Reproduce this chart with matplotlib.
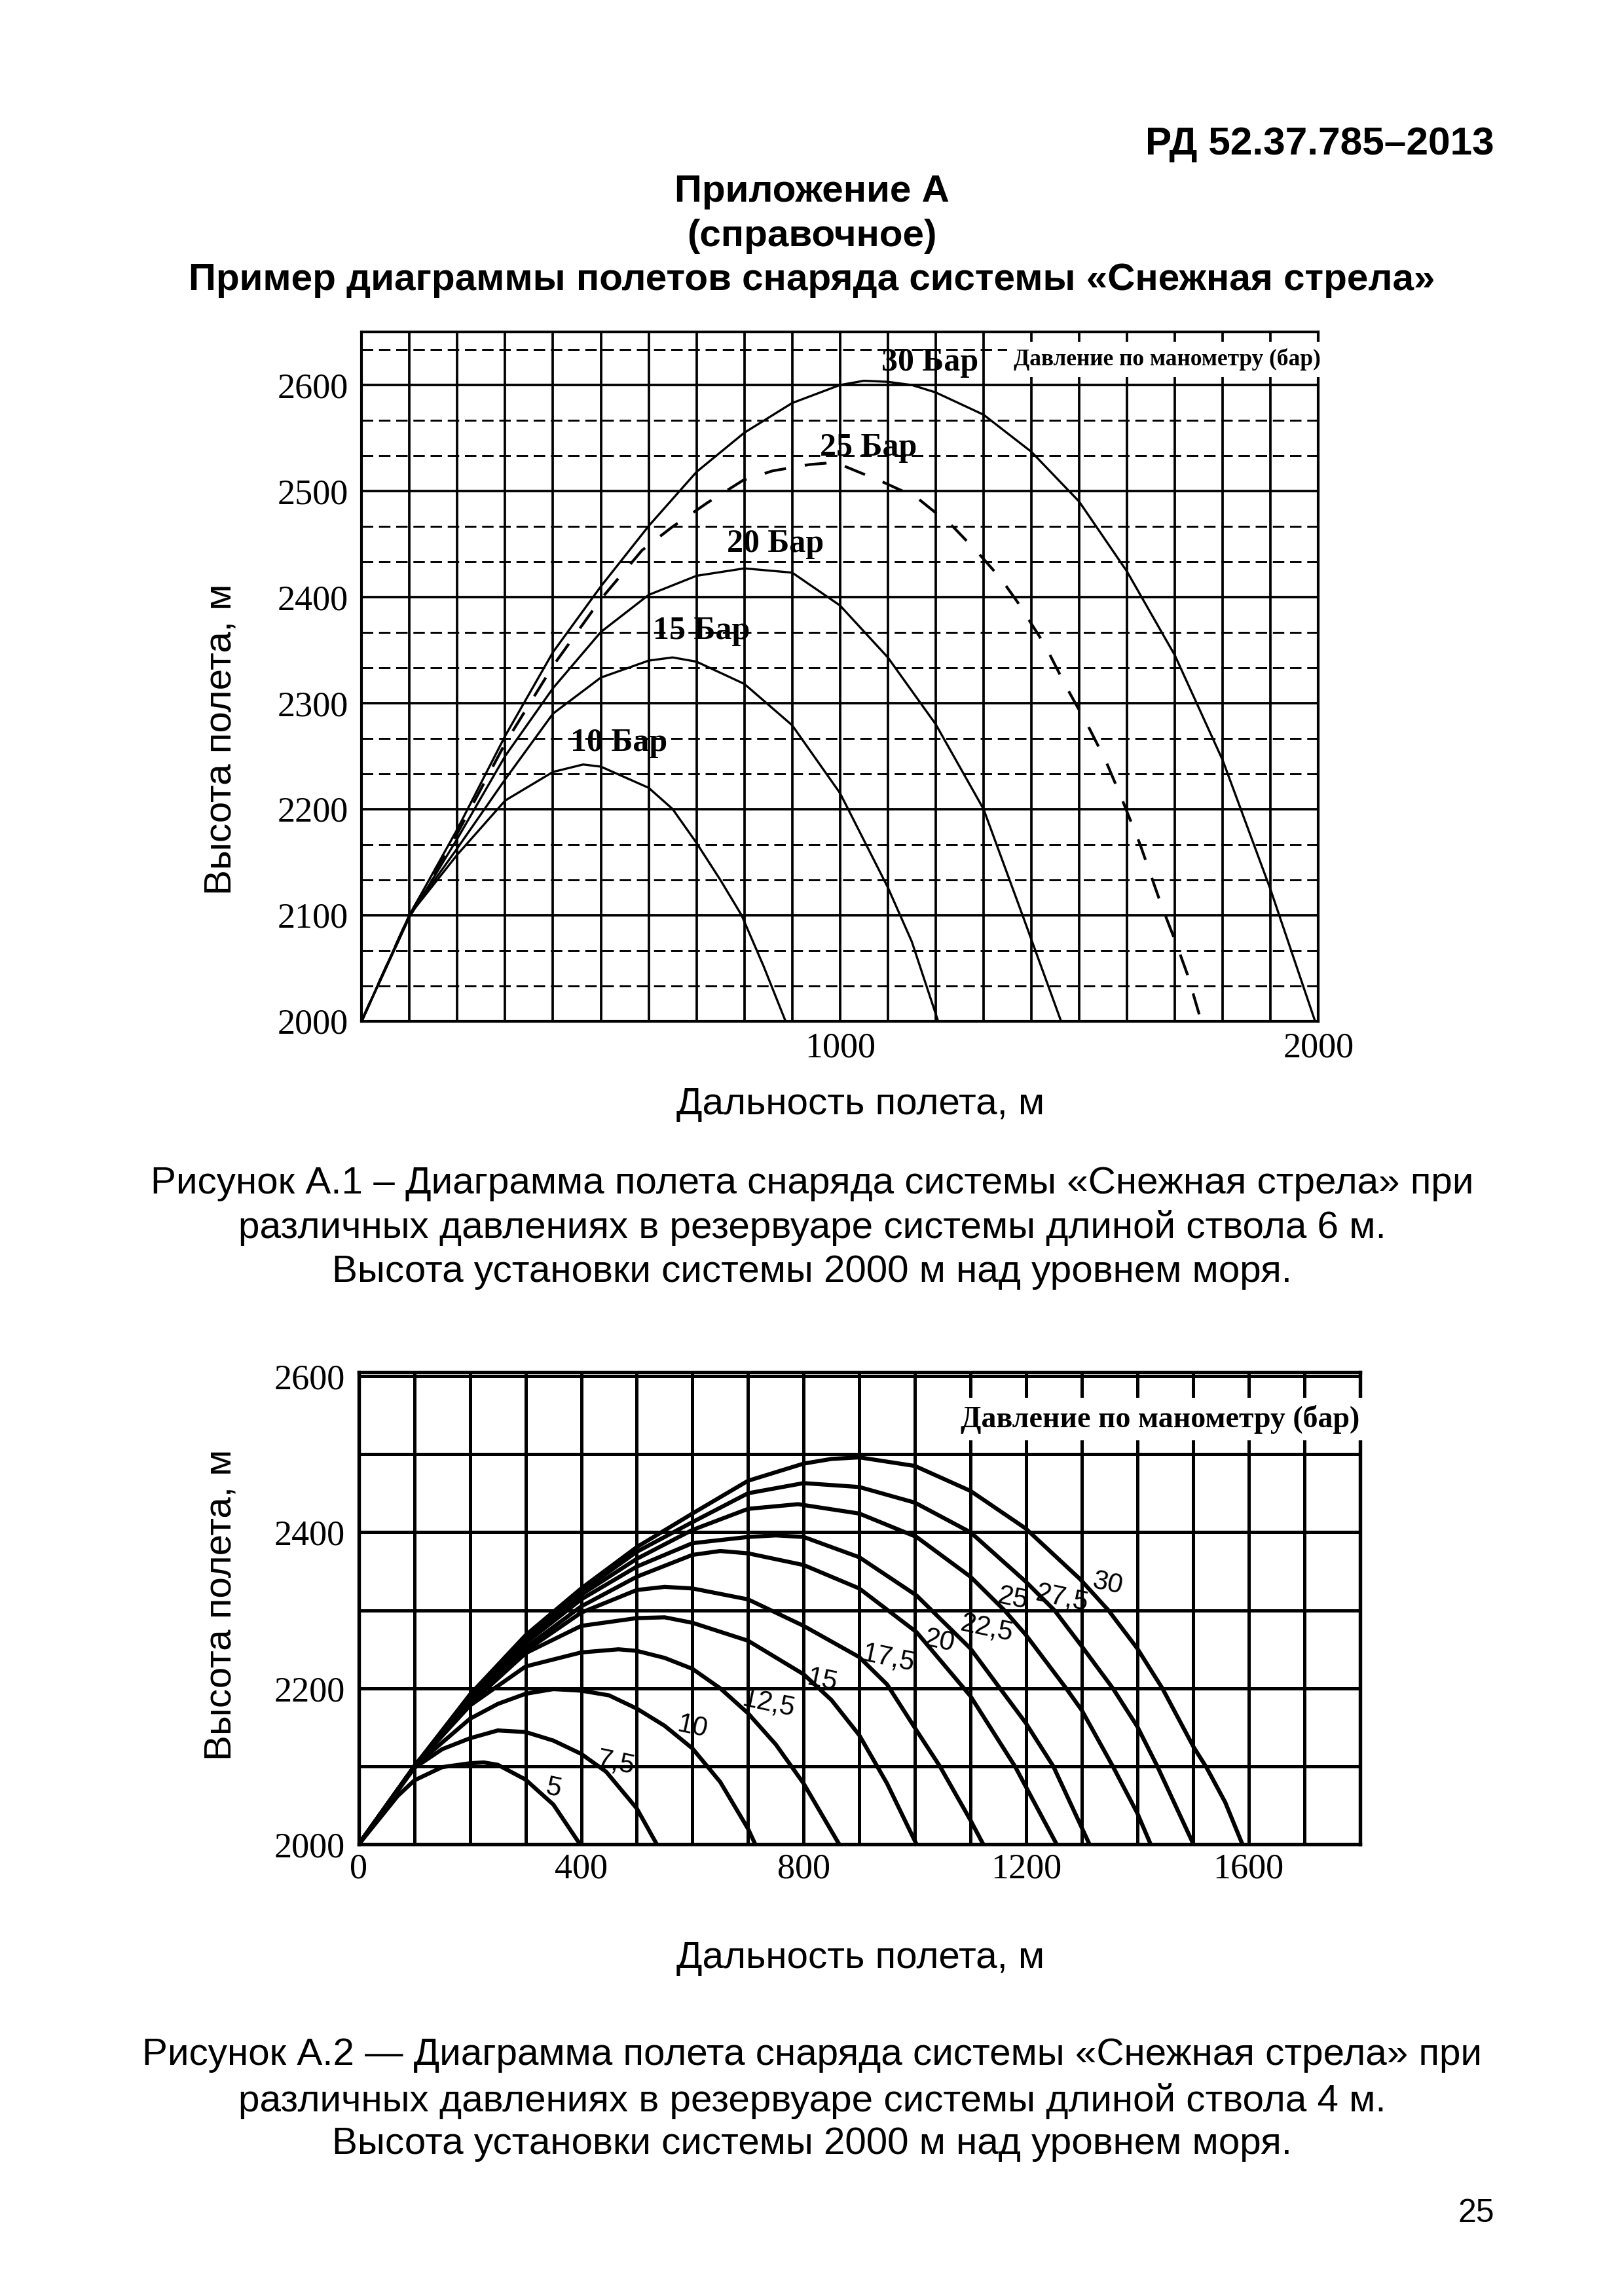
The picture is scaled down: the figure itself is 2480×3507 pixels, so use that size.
from matplotlib import pyplot as plt
import numpy as np

plt.rcParams['font.family'] = ['Liberation Serif', 'DejaVu Serif']
SANS = ['Liberation Sans', 'DejaVu Sans']

########################################################################################################################
# Figure A.1 -- barrel 6 m, pressures 10...30 bar
a1_x_10 = [0, 100, 200, 300, 400, 463, 500, 600, 650, 700, 750, 794, 840, 886]
a1_y_10 = [2000, 2100, 2157, 2208, 2235, 2242, 2240, 2220, 2200, 2168, 2133, 2100, 2052, 2000]

a1_x_15 = [0, 100, 200, 300, 400, 500, 600, 650, 700, 800, 900, 1000, 1100, 1150, 1205]
a1_y_15 = [2000, 2100, 2163, 2228, 2290, 2324, 2340, 2343, 2339, 2318, 2279, 2215, 2126, 2075, 2000]

a1_x_20 = [0, 100, 200, 300, 400, 500, 600, 700, 800, 900, 1000, 1100, 1200, 1300, 1383, 1462]
a1_y_20 = [2000, 2098, 2172, 2250, 2314, 2367, 2402, 2420, 2427, 2423, 2392, 2343, 2280, 2200, 2098, 2000]

a1_x_25 = [0, 100, 200, 300, 400, 500, 586, 649, 723, 797, 859, 937, 990, 1087, 1160, 1237, 1290, 1335, 1370,
           1428, 1472, 1519, 1555, 1587, 1627, 1672, 1703, 1727, 1755]
a1_y_25 = [2000, 2100, 2177, 2262, 2335, 2398, 2444, 2466, 2489, 2510, 2519, 2525, 2527, 2509, 2494, 2466, 2441,
           2418, 2396, 2355, 2316, 2278, 2246, 2212, 2167, 2109, 2073, 2043, 2000]

a1_x_30 = [0, 100, 200, 300, 400, 500, 600, 700, 800, 900, 1000, 1050, 1100, 1150, 1200, 1300, 1400, 1500, 1600,
           1700, 1800, 1900, 1993]
a1_y_30 = [2000, 2100, 2181, 2269, 2348, 2410, 2467, 2518, 2555, 2583, 2600, 2604, 2603, 2600, 2593, 2572, 2537,
           2490, 2424, 2345, 2246, 2124, 2000]

a1_labels = ["10 Бар", "15 Бар", "20 Бар", "25 Бар", "30 Бар"]
a1_label_x = [538, 710, 865, 1060, 1188]
a1_label_y = [2262, 2368, 2450, 2541, 2621]

########################################################################################################################
# Figure A.2 -- barrel 4 m, pressures 5...30 bar
a2_x_5 = [0, 70, 100, 150, 200, 225, 250, 300, 350, 398]
a2_y_5 = [2000, 2062, 2082, 2099, 2104, 2105, 2102, 2083, 2051, 2000]

a2_x_75 = [0, 100, 150, 200, 250, 300, 350, 400, 445, 500, 536]
a2_y_75 = [2000, 2098, 2122, 2136, 2146, 2144, 2133, 2116, 2093, 2046, 2000]

a2_x_10 = [0, 100, 200, 250, 300, 350, 400, 450, 500, 550, 600, 650, 700, 713]
a2_y_10 = [2000, 2100, 2161, 2180, 2193, 2199, 2197, 2191, 2174, 2152, 2123, 2080, 2020, 2000]

a2_x_125 = [0, 100, 200, 300, 400, 467, 500, 550, 600, 650, 700, 750, 800, 864]
a2_y_125 = [2000, 2100, 2178, 2228, 2246, 2250, 2248, 2239, 2225, 2200, 2168, 2128, 2078, 2000]

a2_x_15 = [0, 100, 200, 300, 400, 500, 550, 600, 700, 800, 850, 900, 950, 1003]
a2_y_15 = [2000, 2100, 2180, 2245, 2280, 2290, 2291, 2284, 2261, 2218, 2185, 2140, 2078, 2000]

a2_x_175 = [0, 100, 200, 300, 400, 500, 550, 600, 700, 800, 900, 950, 1003, 1045, 1100, 1123]
a2_y_175 = [2000, 2100, 2182, 2248, 2297, 2326, 2330, 2328, 2314, 2280, 2240, 2205, 2146, 2100, 2031, 2000]

a2_x_20 = [0, 100, 200, 300, 400, 500, 600, 650, 700, 800, 900, 1003, 1087, 1100, 1180, 1255]
a2_y_20 = [2000, 2100, 2184, 2252, 2305, 2343, 2371, 2376, 2373, 2358, 2328, 2272, 2201, 2190, 2100, 2000]

a2_x_225 = [0, 100, 200, 300, 400, 500, 600, 700, 750, 800, 900, 1003, 1100, 1153, 1199, 1249, 1314]
a2_y_225 = [2000, 2100, 2186, 2258, 2314, 2356, 2386, 2394, 2396, 2394, 2368, 2319, 2251, 2200, 2156, 2100, 2000]

a2_x_25 = [0, 100, 200, 300, 400, 500, 600, 700, 790, 900, 1003, 1100, 1161, 1199, 1272, 1300, 1356, 1400, 1424]
a2_y_25 = [2000, 2100, 2188, 2262, 2320, 2366, 2403, 2430, 2436, 2424, 2394, 2343, 2300, 2269, 2200, 2172, 2100,
           2040, 2000]

a2_x_275 = [0, 100, 200, 300, 400, 500, 600, 700, 800, 900, 1000, 1100, 1199, 1251, 1300, 1356, 1400, 1436, 1501]
a2_y_275 = [2000, 2100, 2190, 2265, 2324, 2375, 2413, 2450, 2463, 2458, 2438, 2400, 2337, 2300, 2254, 2200, 2151,
            2100, 2000]

a2_x_30 = [0, 100, 200, 300, 400, 500, 600, 700, 800, 850, 900, 1000, 1100, 1199, 1297, 1348, 1400, 1445, 1501,
           1524, 1558, 1589]
a2_y_30 = [2000, 2100, 2192, 2268, 2328, 2381, 2424, 2466, 2488, 2494, 2496, 2485, 2453, 2405, 2340, 2300, 2251,
           2200, 2125, 2099, 2054, 2000]

a2_labels = ["5", "7,5", "10", "12,5", "15", "17,5", "20", "22,5", "25", "27,5", "30"]
a2_label_x = [350, 462, 601, 737, 834, 953, 1044, 1129, 1176, 1265, 1347]
a2_label_y = [2072, 2104, 2150, 2180, 2210, 2238, 2260, 2277, 2315, 2315, 2334]

a1_yticks = [2000, 2100, 2200, 2300, 2400, 2500, 2600]
a1_xticks = [1000, 2000]
a2_yticks = [2000, 2200, 2400, 2600]
a2_xticks = [0, 400, 800, 1200, 1600]

########################################################################################################################
fig = plt.figure(figsize=(2480 / 300, 3507 / 300), dpi=300)

# header
fig.text(0.92, 0.937, "РД 52.37.785–2013", family=SANS, fontsize=14.5, fontweight='bold', ha='right', va='center')
fig.text(0.5, 0.9165, "Приложение А", family=SANS, fontsize=14, fontweight='bold', ha='center', va='center')
fig.text(0.5, 0.897, "(справочное)", family=SANS, fontsize=14, fontweight='bold', ha='center', va='center')
fig.text(0.5, 0.878, "Пример диаграммы полетов снаряда системы «Снежная стрела»", family=SANS, fontsize=14,
         fontweight='bold', ha='center', va='center')

# ---------------------------------------------------------------- figure A.1
ax = fig.add_axes([0.2227, 0.5553, 0.5891, 0.3001])
ax.set_xlim(0, 2000)
ax.set_ylim(2000, 2650)
ax.set_xticks(a1_xticks)
ax.set_xticks(np.arange(0, 2001, 100), minor=True)
ax.set_yticks(a1_yticks)
ax.set_yticks([b + d for b in range(2000, 2700, 100) for d in (100 / 3, 200 / 3) if b + d < 2650], minor=True)
ax.tick_params(which='both', length=0, labelsize=13, pad=5)
ax.tick_params(axis='x', pad=4)
ax.grid(which='both', axis='x', color='black', lw=0.9, ls='-')
ax.grid(which='major', axis='y', color='black', lw=0.9, ls='-')
ax.grid(which='minor', axis='y', color='black', lw=0.7, ls=(0, (6, 3)))
ax.set_axisbelow(True)
for sp in ax.spines.values():
    sp.set_linewidth(1.0)

lw = 0.8
ax.plot(a1_x_10, a1_y_10, color='black', lw=lw)
ax.plot(a1_x_15, a1_y_15, color='black', lw=lw)
ax.plot(a1_x_20, a1_y_20, color='black', lw=lw)
ax.plot(a1_x_25, a1_y_25, color='black', lw=1.0, ls=(0, (8, 7)))
ax.plot(a1_x_30, a1_y_30, color='black', lw=lw)

for t, x, y in zip(a1_labels, a1_label_x, a1_label_y):
    ax.text(x, y, t, fontsize=12, fontweight='bold', ha='center', va='center')
ax.text(2005, 2624, "Давление по манометру (бар)", fontsize=8.5, fontweight='bold', ha='right', va='center',
        bbox=dict(facecolor='white', edgecolor='none', pad=2.5))

fig.text(0.136, 0.678, "Высота полета, м", family=SANS, fontsize=14, rotation=90, ha='center', va='center')
fig.text(0.530, 0.519, "Дальность полета, м", family=SANS, fontsize=14, ha='center', va='center')

fig.text(0.5, 0.4846, "Рисунок А.1 – Диаграмма полета снаряда системы «Снежная стрела» при", family=SANS,
         fontsize=14, ha='center', va='center')
fig.text(0.5, 0.4653, "различных давлениях в резервуаре системы длиной ствола 6 м.", family=SANS,
         fontsize=14, ha='center', va='center')
fig.text(0.5, 0.4460, "Высота установки системы 2000 м над уровнем моря.", family=SANS,
         fontsize=14, ha='center', va='center')

# ---------------------------------------------------------------- figure A.2
ax2 = fig.add_axes([0.2209, 0.1967, 0.6164, 0.2056])
ax2.set_xlim(0, 1800)
ax2.set_ylim(2000, 2605)
ax2.set_xticks(a2_xticks)
ax2.set_xticks(np.arange(0, 1801, 100), minor=True)
ax2.set_yticks(a2_yticks)
ax2.set_yticks(np.arange(2000, 2601, 100), minor=True)
ax2.tick_params(which='both', length=0, labelsize=13, pad=5)
ax2.tick_params(axis='x', pad=3)
ax2.grid(which='both', color='black', lw=1.2, ls='-')
ax2.set_axisbelow(True)
for sp in ax2.spines.values():
    sp.set_linewidth(1.3)

lw2 = 1.5
for xs, ys in [(a2_x_5, a2_y_5), (a2_x_75, a2_y_75), (a2_x_10, a2_y_10), (a2_x_125, a2_y_125),
               (a2_x_15, a2_y_15), (a2_x_175, a2_y_175), (a2_x_20, a2_y_20), (a2_x_225, a2_y_225),
               (a2_x_25, a2_y_25), (a2_x_275, a2_y_275), (a2_x_30, a2_y_30)]:
    ax2.plot(xs, ys, color='black', lw=lw2)

for t, x, y in zip(a2_labels, a2_label_x, a2_label_y):
    ax2.text(x, y, t, family=SANS, fontsize=10, ha='center', va='center', rotation=-12)
ax2.text(1800, 2545, "Давление по манометру (бар)", fontsize=11, fontweight='bold', ha='right', va='center',
         bbox=dict(facecolor='white', edgecolor='none', pad=2.5))

fig.text(0.136, 0.301, "Высота полета, м", family=SANS, fontsize=14, rotation=90, ha='center', va='center')
fig.text(0.530, 0.147, "Дальность полета, м", family=SANS, fontsize=14, ha='center', va='center')

fig.text(0.5, 0.1048, "Рисунок А.2 — Диаграмма полета снаряда системы «Снежная стрела» при", family=SANS,
         fontsize=14, ha='center', va='center')
fig.text(0.5, 0.0848, "различных давлениях в резервуаре системы длиной ствола 4 м.", family=SANS,
         fontsize=14, ha='center', va='center')
fig.text(0.5, 0.0662, "Высота установки системы 2000 м над уровнем моря.", family=SANS,
         fontsize=14, ha='center', va='center')

fig.text(0.909, 0.036, "25", family=SANS, fontsize=12, ha='center', va='center')

plt.savefig("out.png", dpi=300)
plt.close()
